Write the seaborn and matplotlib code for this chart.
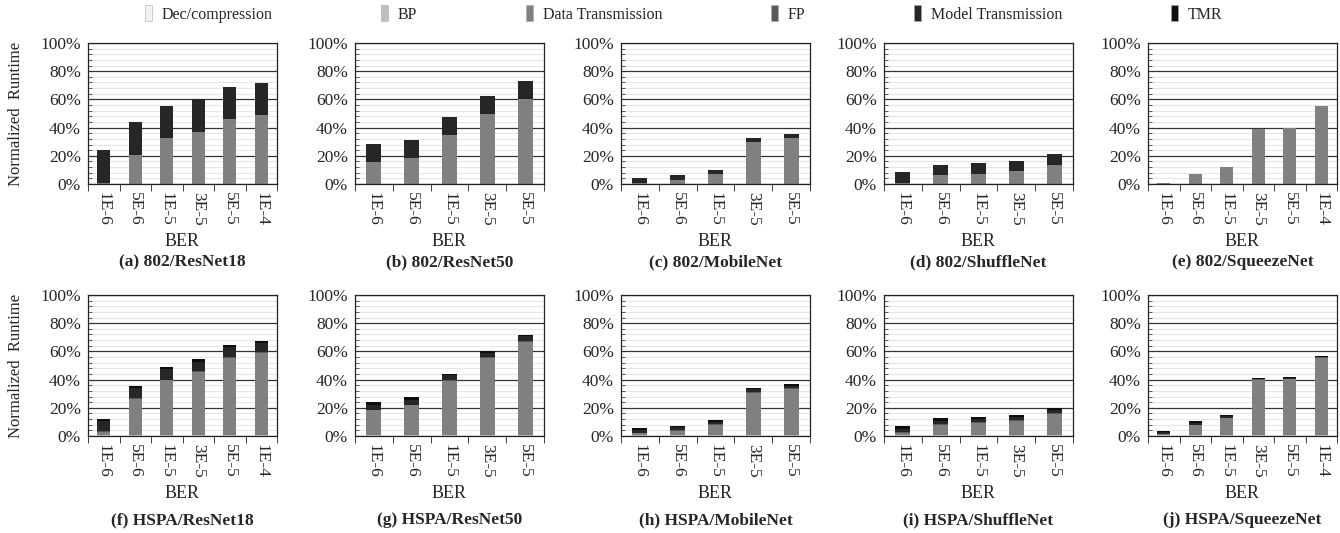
import numpy as np
import matplotlib
matplotlib.use('Agg')
import matplotlib.pyplot as plt
from matplotlib.patches import Patch
from matplotlib.ticker import MultipleLocator, FixedLocator, PercentFormatter
import seaborn as sns

sns.set_style('white')
plt.rcParams['font.family'] = ['Liberation Serif', 'DejaVu Serif']

# BER settings
ber6 = ['1E-6', '5E-6', '1E-5', '3E-5', '5E-5', '1E-4']
ber5 = ['1E-6', '5E-6', '1E-5', '3E-5', '5E-5']

series_names = ['Dec/compression', 'BP', 'Data Transmission', 'FP', 'Model Transmission', 'TMR']
series_colors = ['#f2f2f2', '#bfbfbf', '#808080', '#595959', '#262626', '#0d0d0d']

# 802 link (values in %)
r18_802_dt = [1.0, 20.9, 32.5, 37.0, 46.0, 48.8]
r18_802_mt = [23.2, 22.9, 22.7, 23.0, 22.7, 22.8]
r50_802_dt = [15.3, 18.6, 34.7, 49.8, 60.6]
r50_802_mt = [12.8, 12.5, 12.5, 12.5, 12.7]
mob_802_dt = [0.5, 2.8, 6.8, 29.5, 32.3]
mob_802_mt = [3.7, 3.3, 3.1, 3.3, 3.3]
shf_802_dt = [0.7, 6.1, 7.3, 8.9, 13.6]
shf_802_mt = [8.0, 7.3, 7.5, 7.6, 7.8]
sqz_802_dt = [0.9, 6.9, 12.1, 38.8, 39.7, 55.1]
sqz_802_mt = [0.0, 0.0, 0.0, 0.0, 0.0, 0.0]

# HSPA link (values in %)
r18_hspa_dec = [0.3, 0.3, 0.3, 0.3, 0.3, 0.3]
r18_hspa_bp = [0.5, 0.5, 0.5, 0.5, 0.5, 0.5]
r18_hspa_dt = [2.3, 25.3, 38.7, 44.7, 54.7, 58.1]
r18_hspa_fp = [0.5, 0.5, 0.5, 0.5, 0.5, 0.5]
r18_hspa_mt = [6.8, 7.3, 7.5, 6.8, 6.9, 6.3]
r18_hspa_tmr = [2.0, 1.7, 1.5, 1.5, 1.5, 1.5]

r50_hspa_dec = [0.3, 0.3, 0.3, 0.3, 0.3]
r50_hspa_bp = [0.5, 0.5, 0.5, 0.5, 0.5]
r50_hspa_dt = [17.4, 20.9, 38.1, 54.4, 66.2]
r50_hspa_fp = [0.5, 0.5, 0.5, 0.5, 0.5]
r50_hspa_mt = [3.0, 3.2, 3.7, 3.4, 3.6]
r50_hspa_tmr = [2.4, 2.0, 1.0, 1.0, 0.8]

mob_hspa_dec = [0.3, 0.3, 0.3, 0.3, 0.3]
mob_hspa_bp = [0.5, 0.5, 0.5, 0.5, 0.5]
mob_hspa_dt = [1.1, 3.0, 7.2, 29.9, 32.7]
mob_hspa_fp = [0.3, 0.3, 0.3, 0.3, 0.3]
mob_hspa_mt = [2.0, 2.0, 1.8, 2.0, 1.8]
mob_hspa_tmr = [1.2, 1.2, 1.2, 1.0, 1.0]

shf_hspa_dec = [0.3, 0.3, 0.3, 0.3, 0.3]
shf_hspa_bp = [0.5, 0.5, 0.5, 0.5, 0.5]
shf_hspa_dt = [1.1, 6.7, 8.2, 9.8, 14.5]
shf_hspa_fp = [0.8, 0.8, 0.8, 0.8, 0.8]
shf_hspa_mt = [2.6, 2.4, 2.1, 1.9, 2.1]
shf_hspa_tmr = [1.8, 1.8, 1.8, 1.8, 1.8]

sqz_hspa_dec = [0.3, 0.3, 0.3, 0.3, 0.3, 0.3]
sqz_hspa_bp = [0.5, 0.5, 0.5, 0.5, 0.5, 0.5]
sqz_hspa_dt = [0.4, 6.8, 11.8, 39.1, 39.6, 54.8]
sqz_hspa_fp = [0.2, 0.2, 0.2, 0.2, 0.2, 0.2]
sqz_hspa_mt = [1.2, 1.5, 1.4, 0.4, 0.8, 0.4]
sqz_hspa_tmr = [1.2, 1.2, 1.0, 0.6, 0.6, 0.6]


def zeros(n):
    return [0.0] * n


panels = [
    ('(a) 802/ResNet18', ber6, [zeros(6), zeros(6), r18_802_dt, zeros(6), r18_802_mt, zeros(6)]),
    ('(b) 802/ResNet50', ber5, [zeros(5), zeros(5), r50_802_dt, zeros(5), r50_802_mt, zeros(5)]),
    ('(c) 802/MobileNet', ber5, [zeros(5), zeros(5), mob_802_dt, zeros(5), mob_802_mt, zeros(5)]),
    ('(d) 802/ShuffleNet', ber5, [zeros(5), zeros(5), shf_802_dt, zeros(5), shf_802_mt, zeros(5)]),
    ('(e) 802/SqueezeNet', ber6, [zeros(6), zeros(6), sqz_802_dt, zeros(6), sqz_802_mt, zeros(6)]),
    ('(f) HSPA/ResNet18', ber6, [r18_hspa_dec, r18_hspa_bp, r18_hspa_dt, r18_hspa_fp, r18_hspa_mt, r18_hspa_tmr]),
    ('(g) HSPA/ResNet50', ber5, [r50_hspa_dec, r50_hspa_bp, r50_hspa_dt, r50_hspa_fp, r50_hspa_mt, r50_hspa_tmr]),
    ('(h) HSPA/MobileNet', ber5, [mob_hspa_dec, mob_hspa_bp, mob_hspa_dt, mob_hspa_fp, mob_hspa_mt, mob_hspa_tmr]),
    ('(i) HSPA/ShuffleNet', ber5, [shf_hspa_dec, shf_hspa_bp, shf_hspa_dt, shf_hspa_fp, shf_hspa_mt, shf_hspa_tmr]),
    ('(j) HSPA/SqueezeNet', ber6, [sqz_hspa_dec, sqz_hspa_bp, sqz_hspa_dt, sqz_hspa_fp, sqz_hspa_mt, sqz_hspa_tmr]),
]

W, H = 1340, 533
fig = plt.figure(figsize=(W / 100, H / 100), dpi=100)

lefts = [88, 355, 621, 884, 1148]
row_top = [43, 295]
row_bot = [184, 436]
title_y = [-0.553, -0.596]
ax_w = 189

for i, (title, labels, layers) in enumerate(panels):
    r, c = divmod(i, 5)
    ax = fig.add_axes([lefts[c] / W, 1 - row_bot[r] / H, ax_w / W, (row_bot[r] - row_top[r]) / H])
    bottom = np.zeros(len(labels))
    for vals, name, col in zip(layers, series_names, series_colors):
        sns.barplot(x=labels, y=vals, bottom=bottom, color=col, width=0.4,
                    errorbar=None, ax=ax, linewidth=0, saturation=1)
        bottom = bottom + np.array(vals)

    ax.set_ylim(0, 100)
    ax.set_xlim(-0.5, len(labels) - 0.5)
    ax.yaxis.set_major_locator(MultipleLocator(20))
    ax.yaxis.set_minor_locator(MultipleLocator(4))
    ax.yaxis.set_major_formatter(PercentFormatter(decimals=0))
    ax.grid(axis='y', which='minor', color='#e6e6e6', linewidth=0.8)
    ax.grid(axis='y', which='major', color='#333333', linewidth=0.9)
    ax.set_axisbelow(True)
    ax.tick_params(axis='y', which='major', length=0, labelsize=12.5, pad=5)
    ax.tick_params(axis='y', which='minor', length=3, direction='in', left=True, color='#444444')
    ax.xaxis.set_minor_locator(FixedLocator(np.arange(-0.5, len(labels), 1.0)))
    ax.tick_params(axis='x', which='major', length=0, labelsize=12.5, labelrotation=270, pad=6)
    ax.tick_params(axis='x', which='minor', length=5, direction='out', bottom=True, color='#222222')
    for sp in ax.spines.values():
        sp.set_visible(True)
        sp.set_color('#222222')
        sp.set_linewidth(0.9)

    ax.set_xlabel('BER', fontsize=13, labelpad=5)
    if c == 0:
        ax.set_ylabel('Normalized  Runtime', fontsize=12, labelpad=12)
    else:
        ax.set_ylabel('')
    ax.text(0.5, title_y[r], title, transform=ax.transAxes, ha='center', va='center',
            fontsize=12.5, fontweight='bold')

handles = [Patch(facecolor=col, edgecolor='#aaaaaa', linewidth=0.4) for col in series_colors]
fig.legend(handles, series_names, loc='center', bbox_to_anchor=(0.51, 1 - 14 / H), ncol=6,
           frameon=False, fontsize=11.5, handlelength=0.45, handleheight=1.1,
           handletextpad=0.6, columnspacing=6.8)

fig.savefig('out.png', dpi=100)
